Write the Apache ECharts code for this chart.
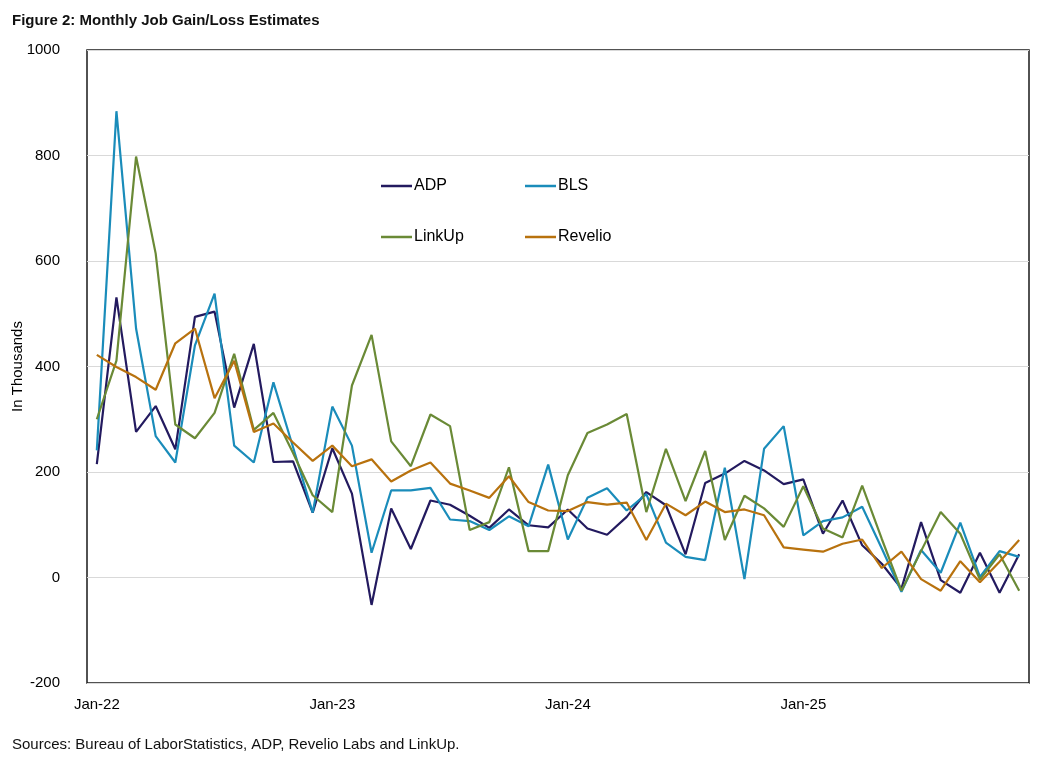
<!DOCTYPE html>
<html>
<head>
<meta charset="utf-8">
<script src="https://cdn.jsdelivr.net/npm/echarts@6/dist/echarts.min.js"></script>
<style>html,body{margin:0;padding:0;background:#fff}#c{width:1044px;height:758px}</style>
</head>
<body>
<div id="c"></div>
<script>
const categories = ["Jan-22","Feb-22","Mar-22","Apr-22","May-22","Jun-22","Jul-22","Aug-22","Sep-22","Oct-22","Nov-22","Dec-22",
"Jan-23","Feb-23","Mar-23","Apr-23","May-23","Jun-23","Jul-23","Aug-23","Sep-23","Oct-23","Nov-23","Dec-23",
"Jan-24","Feb-24","Mar-24","Apr-24","May-24","Jun-24","Jul-24","Aug-24","Sep-24","Oct-24","Nov-24","Dec-24",
"Jan-25","Feb-25","Mar-25","Apr-25","May-25","Jun-25","Jul-25","Aug-25","Sep-25","Oct-25","Nov-25","Dec-25"];
const adp = [215,531,276,325,243,494,504,322,443,219,220,123,245,159,-52,131,54,146,138,117,94,129,99,95,129,93,81,115,162,137,44,179,197,221,203,177,186,83,146,61,26,-21,105,-5,-29,47,-29,44];
const bls = [241,884,472,268,218,440,538,250,218,370,247,123,324,250,47,165,165,170,110,107,90,116,97,214,72,151,169,127,158,66,39,33,208,-3,244,287,80,107,114,134,55,-27,52,9,104,1,50,39];
const linkup = [300,411,798,614,290,264,312,424,280,312,236,156,124,364,460,258,211,309,287,90,105,209,50,50,194,274,290,310,124,244,145,240,71,155,131,96,173,93,76,174,73,-25,50,124,83,-4,44,-25];
const revelio = [422,399,380,356,444,472,340,411,276,292,256,221,250,211,224,182,203,218,178,165,151,192,143,127,126,143,138,142,71,140,118,144,124,129,118,57,53,49,64,72,18,49,-3,-25,31,-9,30,71];
const yTicks = [-200,0,200,400,600,800,1000];

const colors = {ADP:'#231a5f', BLS:'#1a8cba', LinkUp:'#6a8a36', Revelio:'#b8720e'};
const chart = echarts.init(document.getElementById('c'));
function mkLegend(name, left, top){
  return {data:[name], left:left, top:top, icon:'rect', itemWidth:31, itemHeight:2.5, itemGap:4,
    textStyle:{fontFamily:'Liberation Sans, Arial, sans-serif', fontSize:16, color:'#000', padding:[0,0,0,-3]}};
}
function mkSeries(name, data){
  return {name:name, type:'line', data:data, symbol:'none', smooth:false,
    lineStyle:{width:2.2, color:colors[name]}, itemStyle:{color:colors[name]}};
}
chart.setOption({
  animation:false,
  title:[
    {text:'Figure 2: Monthly Job Gain/Loss Estimates', left:7, top:8,
     textStyle:{fontFamily:'Liberation Sans, Arial, sans-serif', fontWeight:'bold', fontSize:15, color:'#111'}},
    {text:'Sources: Bureau of LaborStatistics, ADP, Revelio Labs and LinkUp.', left:7, top:732,
     textStyle:{fontFamily:'Liberation Sans, Arial, sans-serif', fontWeight:'normal', fontSize:15, color:'#111'}}
  ],
  legend:[mkLegend('ADP',376,173), mkLegend('BLS',520,173), mkLegend('LinkUp',376,224), mkLegend('Revelio',520,224)],
  grid:{left:87, right:15, top:50, bottom:75, containLabel:false, outerBoundsMode:'none',
    show:true, borderColor:'#1a1a1a', borderWidth:1.5, backgroundColor:'transparent'},
  xAxis:{type:'category', data:categories, boundaryGap:true,
    axisLine:{show:false}, axisTick:{show:false},
    axisLabel:{interval:11, margin:14, fontFamily:'Liberation Sans, Arial, sans-serif', fontSize:15, color:'#000'},
    splitLine:{show:false}},
  yAxis:{type:'value', min:yTicks[0], max:yTicks[yTicks.length-1], interval:200,
    name:'In Thousands', nameLocation:'middle', nameRotate:90, nameGap:62, nameMoveOverlap:false,
    nameTextStyle:{fontFamily:'Liberation Sans, Arial, sans-serif', fontSize:15, color:'#000'},
    axisLine:{show:false}, axisTick:{show:false},
    axisLabel:{margin:27, formatter:function(v){return String(v);}, fontFamily:'Liberation Sans, Arial, sans-serif', fontSize:15, color:'#000'},
    splitLine:{show:true, lineStyle:{color:'#d9d9d9', width:1}}},
  series:[mkSeries('ADP',adp), mkSeries('BLS',bls), mkSeries('LinkUp',linkup), mkSeries('Revelio',revelio)]
});
</script>
</body>
</html>
